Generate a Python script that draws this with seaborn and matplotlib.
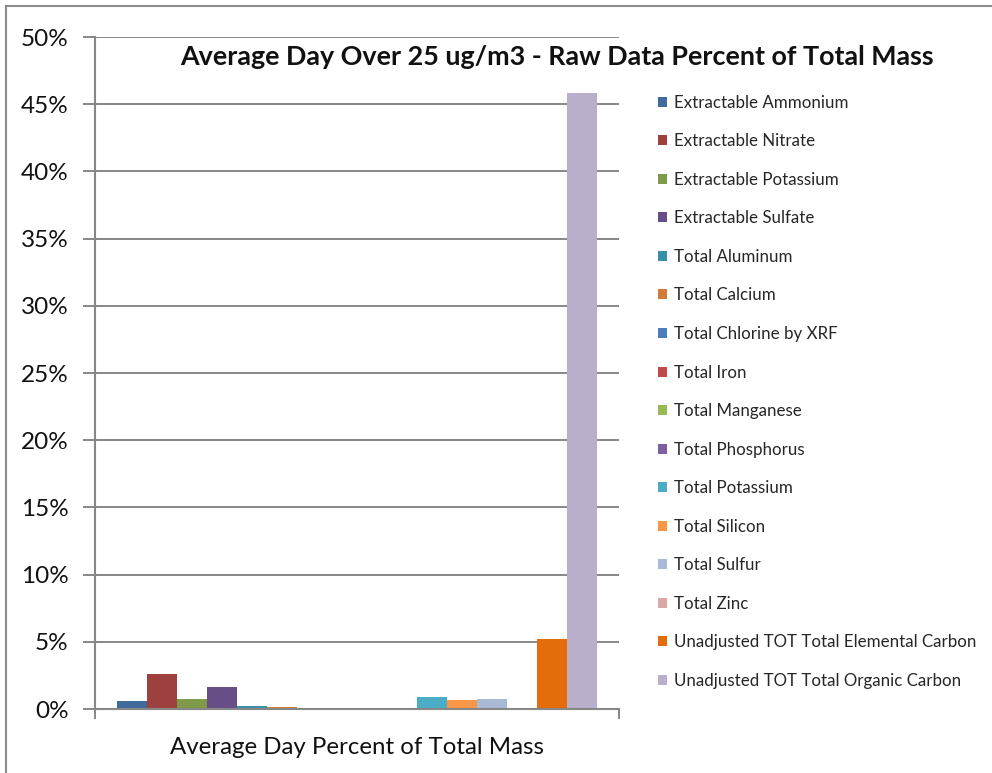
import matplotlib
matplotlib.use("Agg")
import matplotlib.pyplot as plt
import matplotlib.ticker as mticker
from matplotlib.patches import Rectangle
import seaborn as sns
import pandas as pd

species = [
    "Extractable Ammonium",
    "Extractable Nitrate",
    "Extractable Potassium",
    "Extractable Sulfate",
    "Total Aluminum",
    "Total Calcium",
    "Total Chlorine by XRF",
    "Total Iron",
    "Total Manganese",
    "Total Phosphorus",
    "Total Potassium",
    "Total Silicon",
    "Total Sulfur",
    "Total Zinc",
    "Unadjusted TOT Total Elemental Carbon",
    "Unadjusted TOT Total Organic Carbon",
]
percent = [0.58, 2.57, 0.71, 1.60, 0.19, 0.18, 0.11, 0.11,
           0.01, 0.01, 0.86, 0.64, 0.71, 0.10, 5.20, 45.8]
colors = [
    "#3F6A9E", "#9E413E", "#7F9A48", "#684E86", "#3A8FA8", "#D17C36",
    "#4A7EBB", "#BE4B48", "#98B954", "#7D60A0", "#4BACC6", "#F79646",
    "#A9BAD6", "#D9A7A7", "#E46C0A", "#B9AFCA",
]
category = "Average Day Percent of Total Mass"
title = "Average Day Over 25 ug/m3 - Raw Data Percent of Total Mass"

df = pd.DataFrame({"group": [category] * len(species),
                   "species": species,
                   "pct": percent})

sns.set_theme(style="white")
plt.rcParams["font.family"] = ["Lato", "DejaVu Sans"]

W, H = 992, 773
fig = plt.figure(figsize=(W / 100, H / 100), dpi=100)
ax = fig.add_axes([95 / W, (H - 709) / H, (619 - 95) / W, (709 - 37) / H])

sns.barplot(data=df, x="group", y="pct", hue="species", hue_order=species,
            palette=colors, width=0.916, saturation=1, linewidth=0,
            edgecolor="none", ax=ax, legend=True)

grid_c = "#878787"
ax.set_xlim(-0.5, 0.5)
ax.set_ylim(0, 50)
ax.yaxis.set_major_locator(mticker.MultipleLocator(5))
ax.yaxis.set_major_formatter(mticker.FuncFormatter(lambda v, p: f"{v:.0f}%"))
ax.yaxis.grid(True, color=grid_c, linewidth=1.4)
ax.set_axisbelow(True)
ax.set_xlabel("")
ax.set_ylabel("")

for side in ("top", "right"):
    ax.spines[side].set_visible(False)
for side in ("left", "bottom"):
    ax.spines[side].set_color(grid_c)
    ax.spines[side].set_linewidth(1.5)

ax.tick_params(axis="y", which="major", left=True, length=9, width=1.4,
               color=grid_c, labelsize=17.5, pad=10, labelcolor="#111111")
ax.tick_params(axis="x", which="major", bottom=False, labelsize=17.3,
               pad=14, labelcolor="#111111")
ax.set_xticks([-0.5, 0.5], minor=True)
ax.tick_params(axis="x", which="minor", bottom=True, length=7, width=1.4,
               color=grid_c, direction="out")

handles, labels = ax.get_legend_handles_labels()
ax.get_legend().remove()
fig.legend(handles, labels, loc="upper left",
           bbox_to_anchor=(651 / W, 1 - 88 / H), frameon=False,
           fontsize=12.2, handlelength=0.53, handleheight=0.53,
           handletextpad=0.4, labelspacing=1.33, borderaxespad=0)

fig.text(557 / W, 1 - 57 / H, title, ha="center", va="center",
         fontsize=19.4, fontweight="bold", color="#111111")

# chart frame
fig.patches.append(Rectangle((6 / W, -0.1), 1.2, 1.1 - 6 / H,
                             transform=fig.transFigure, fill=False,
                             edgecolor="#8c8c8c", linewidth=1.5))

fig.savefig("out.png", dpi=100)
